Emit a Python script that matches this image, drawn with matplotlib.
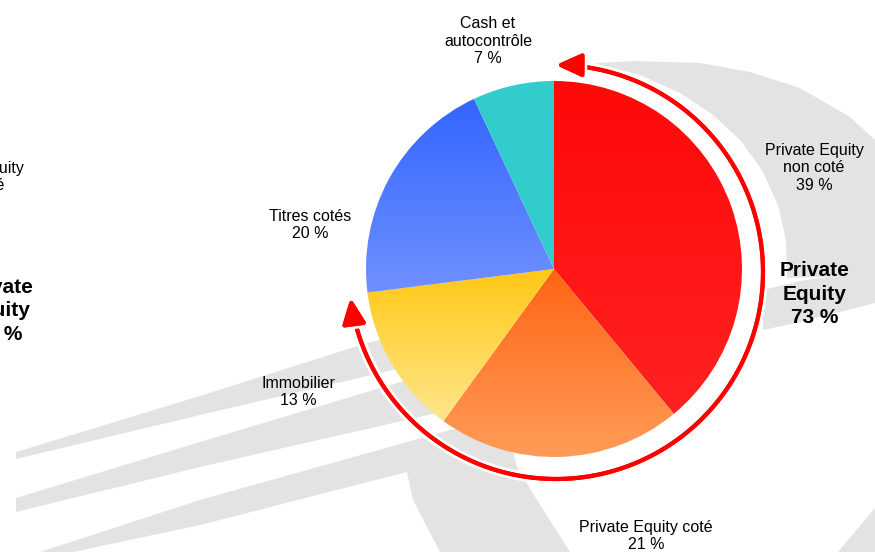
import numpy as np
import matplotlib
matplotlib.use("Agg")
import matplotlib.pyplot as plt
from matplotlib.patches import Polygon, FancyArrowPatch
from matplotlib.path import Path
from matplotlib.colors import to_rgb
import matplotlib.patheffects as pe

plt.rcParams['font.family'] = ['Liberation Sans', 'DejaVu Sans']

W, H = 875, 552

# ---- data ----
categories = ["Private Equity\nnon coté", "Private Equity coté", "Immobilier",
              "Titres cotés", "Cash et\nautocontrôle"]
values = [39, 21, 13, 20, 7]
top_colors = ["#FF0808", "#FF6414", "#FFC814", "#3366FF", "#33CCCC"]
bottom_colors = ["#FF2222", "#FF9C58", "#FFE68C", "#7090FF", "#33CCCC"]
group_label = "Private\nEquity"
group_value = 73

# label anchor positions (pixels, y downwards)
label_pos = [(814, 168), (646, 536), (298, 392), (310, 225), (488, 41)]
group_pos = (815, 294)
# clipped copies at the left border
ghost_label_pos = (-26, 185)
ghost_group_pos = (-1.5, 311)

pie_center_px = (554, 269)
pie_radius = 188
arc_center_px = (556, 272)
arc_radius = 207

gray = "#E3E3E3"
background_shapes = [
    # big arc band top-right
    [(578, 66), (600, 63), (633, 61), (700, 63), (750, 72), (800, 88), (850, 117),
     (875, 140), (875, 275), (787, 278), (786, 240), (778, 205), (762, 170),
     (740, 140), (712, 114), (680, 93), (640, 75), (600, 65)],
    # stripe at right
    [(763, 290), (800, 281), (875, 270), (875, 303), (800, 322), (763, 330)],
    # streak 1
    [(16, 452), (200, 396), (367, 343), (480, 318), (480, 350), (393, 370), (200, 415), (16, 459)],
    # streak 2
    [(16, 498), (200, 442), (397, 383), (480, 360), (480, 405), (450, 410), (200, 467), (16, 512)],
    # streak 3 + lower band
    [(40, 552), (200, 500), (450, 430), (500, 420), (510, 440), (517, 467), (537, 500),
     (570, 552), (440, 552), (413, 500), (407, 472), (200, 525), (73, 552)],
    # bottom right piece
    [(838, 552), (875, 508), (875, 552)],
]


def px(x, y):
    return (x, H - y)


fig = plt.figure(figsize=(W / 100, H / 100), dpi=100)
ax = fig.add_axes([0, 0, 1, 1])
ax.set_axis_off()

for shp in background_shapes:
    ax.add_patch(Polygon([px(x, y) for x, y in shp], closed=True,
                         facecolor=gray, edgecolor='none', zorder=0))

wedges, _ = ax.pie(values, startangle=90, counterclock=False,
                   center=px(*pie_center_px), radius=pie_radius,
                   wedgeprops=dict(linewidth=0))

for w, c0, c1 in zip(wedges, top_colors, bottom_colors):
    w.set_facecolor('none')
    w.set_edgecolor('none')
    ext = w.get_path().get_extents()
    n = 256
    a = np.array(to_rgb(c0))
    b = np.array(to_rgb(c1))
    t = np.linspace(0, 1, n)[:, None]
    grad = (a * (1 - t) + b * t)[:, None, :]
    im = ax.imshow(grad, extent=[ext.x0, ext.x1, ext.y0, ext.y1], origin='upper',
                   aspect='auto', interpolation='bilinear', zorder=2)
    im.set_clip_path(w)

# arc arrow spanning the Private Equity share
cx, cy = px(*arc_center_px)
theta = np.radians(np.linspace(90, 90 - group_value / 100 * 360, 300))
pts = np.column_stack([cx + arc_radius * np.cos(theta), cy + arc_radius * np.sin(theta)])
arrow = FancyArrowPatch(path=Path(pts),
                        arrowstyle='<|-|>,head_length=1.1,head_width=0.5',
                        mutation_scale=14, color='#FF0000', linewidth=3.0, zorder=3)
arrow.set_path_effects([pe.withStroke(linewidth=7, foreground='white'), pe.Normal()])
ax.add_patch(arrow)

# labels
fs = 11.5
for name, v, (x, y) in zip(categories, values, label_pos):
    ax.text(*px(x, y), f"{name}\n{v} %", ha='center', va='center',
            multialignment='center', fontsize=fs, color='black',
            linespacing=1.2, zorder=4)

ax.text(*px(*group_pos), f"{group_label}\n{group_value} %", ha='center', va='center',
        multialignment='center', fontsize=15, fontweight='bold', color='black',
        linespacing=1.3, zorder=4)

# clipped copies at the left edge
ax.text(*px(*ghost_label_pos), f"{categories[0]}\n{values[0]} %", ha='center', va='center',
        multialignment='center', fontsize=fs, color='black', linespacing=1.1, zorder=4)
ax.text(*px(*ghost_group_pos), f"{group_label}\n{group_value} %", ha='center', va='center',
        multialignment='center', fontsize=15, fontweight='bold', color='black',
        linespacing=1.3, zorder=4)

ax.set_xlim(0, W)
ax.set_ylim(0, H)
ax.set_aspect('equal')

fig.savefig("out.png", dpi=100, facecolor='white')
